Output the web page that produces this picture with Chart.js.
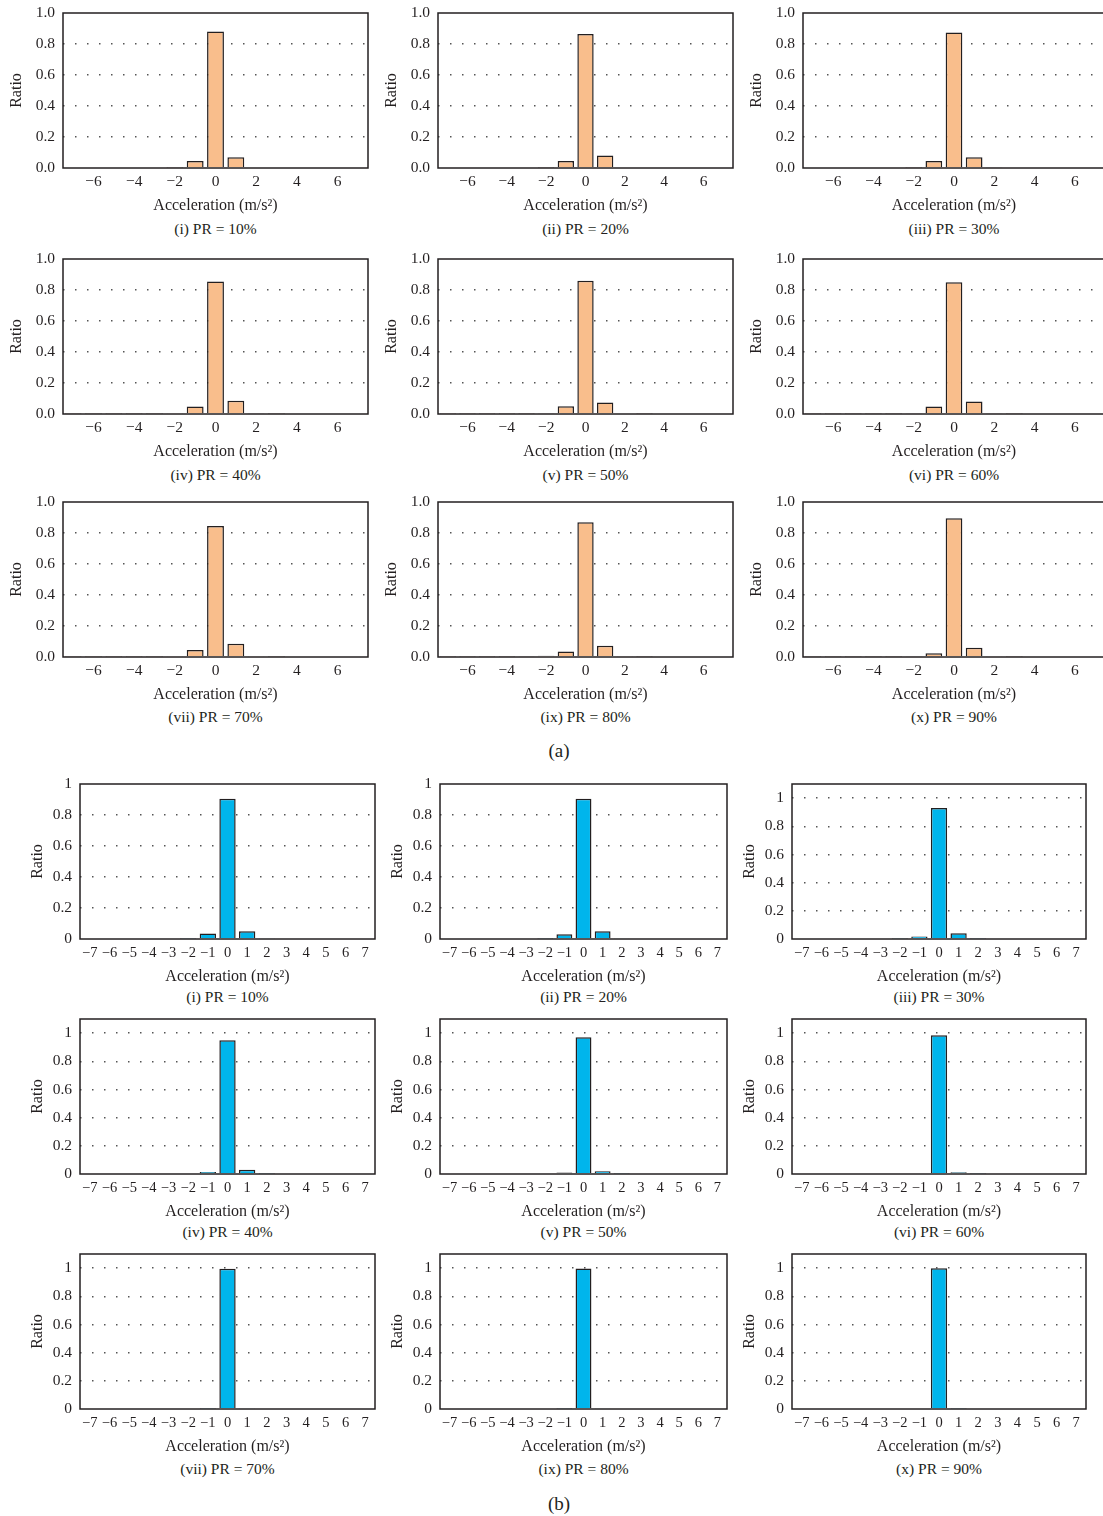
<!DOCTYPE html>
<html>
<head>
<meta charset="utf-8">
<script src="https://cdn.jsdelivr.net/npm/chart.js@4/dist/chart.umd.min.js"></script>
<style>
  html, body { margin: 0; padding: 0; background: #fff; overflow: hidden; }
  body { position: relative; width: 1103px; height: 1516px; font-family: "Liberation Serif", "DejaVu Serif", serif; color: #231f20; }
  canvas { position: absolute; }
  .cap { position: absolute; width: 240px; text-align: center; font-size: 15.5px; line-height: 16px; }
  .part { position: absolute; width: 60px; text-align: center; font-size: 19px; line-height: 20px; }
</style>
</head>
<body>
<script>
// acceleration bins, m/s^2
const accel = [-7, -6, -5, -4, -3, -2, -1, 0, 1, 2, 3, 4, 5, 6, 7];

// (a) ratios per penetration rate
const a10 = [0, 0, 0, 0, 0, 0.001, 0.045, 0.88, 0.07, 0.005, 0, 0, 0, 0, 0];
const a20 = [0, 0, 0, 0, 0, 0.001, 0.045, 0.865, 0.08, 0.005, 0, 0, 0, 0, 0];
const a30 = [0, 0, 0, 0, 0, 0.001, 0.045, 0.875, 0.07, 0.006, 0, 0, 0, 0, 0];
const a40 = [0.001, 0.001, 0.001, 0.001, 0.001, 0.003, 0.048, 0.855, 0.085, 0.006, 0.001, 0, 0, 0, 0];
const a50 = [0.001, 0.001, 0.001, 0.001, 0.002, 0.004, 0.05, 0.86, 0.075, 0.005, 0.001, 0, 0, 0, 0];
const a60 = [0.001, 0.001, 0.001, 0.001, 0.002, 0.006, 0.048, 0.85, 0.08, 0.006, 0.001, 0, 0, 0, 0];
const a70 = [0.001, 0.001, 0.001, 0.002, 0.002, 0.007, 0.045, 0.845, 0.085, 0.003, 0.001, 0, 0, 0, 0];
const a80 = [0.001, 0.001, 0.001, 0.002, 0.004, 0.008, 0.035, 0.87, 0.072, 0.003, 0.001, 0, 0, 0, 0];
const a90 = [0.001, 0.001, 0.001, 0.001, 0.002, 0.004, 0.025, 0.895, 0.06, 0.003, 0.001, 0, 0, 0, 0];

// (b) ratios per penetration rate
const b10 = [0, 0, 0, 0, 0, 0.001, 0.035, 0.905, 0.05, 0.003, 0, 0, 0, 0, 0];
const b20 = [0, 0, 0, 0, 0, 0.001, 0.03, 0.905, 0.05, 0.003, 0, 0, 0, 0, 0];
const b30 = [0, 0, 0, 0, 0, 0.001, 0.018, 0.93, 0.04, 0.002, 0, 0, 0, 0, 0];
const b40 = [0, 0, 0, 0, 0, 0, 0.015, 0.95, 0.03, 0.002, 0, 0, 0, 0, 0];
const b50 = [0, 0, 0, 0, 0, 0, 0.01, 0.97, 0.02, 0.001, 0, 0, 0, 0, 0];
const b60 = [0, 0, 0, 0, 0, 0, 0.006, 0.985, 0.012, 0.002, 0, 0, 0, 0, 0];
const b70 = [0, 0, 0, 0, 0, 0, 0.001, 0.995, 0.003, 0, 0, 0, 0, 0, 0];
const b80 = [0, 0, 0, 0, 0, 0, 0.001, 0.997, 0.003, 0, 0, 0, 0, 0, 0];
const b90 = [0, 0, 0, 0, 0, 0, 0, 0.998, 0.001, 0, 0, 0, 0, 0, 0];

const captions = ["(i) PR = 10%", "(ii) PR = 20%", "(iii) PR = 30%",
                  "(iv) PR = 40%", "(v) PR = 50%", "(vi) PR = 60%",
                  "(vii) PR = 70%", "(ix) PR = 80%", "(x) PR = 90%"];
const seriesA = [a10, a20, a30, a40, a50, a60, a70, a80, a90];
const seriesB = [b10, b20, b30, b40, b50, b60, b70, b80, b90];
const yMaxB = [1, 1, 1.1, 1.1, 1.1, 1.1, 1.1, 1.1, 1.1];
const xTicksA = [-6, -4, -2, 0, 2, 4, 6];
const yTicks = [0, 0.2, 0.4, 0.6, 0.8, 1];

// layout of the plot boxes
const aLeft = [63, 438, 803], aWidth = [305, 295, 302], aTop = [13, 259, 502], aCap = [229, 475, 717];
const bLeft = [80, 440, 792], bWidth = [295, 287, 294], bTop = [784, 1019, 1254], bCap = [997, 1232, 1469];
const plotH = 155;
const FONT = "'Liberation Serif', 'DejaVu Serif', serif";
const INK = "#231f20";

const minus = (v) => v < 0 ? "\u2212" + Math.abs(v) : String(v);

const frame = {
  id: "frame",
  afterDatasetsDraw(chart) {
    const ctx = chart.ctx, a = chart.chartArea;
    ctx.save();
    ctx.strokeStyle = INK;
    ctx.lineWidth = 1.5;
    ctx.strokeRect(a.left, a.top, a.right - a.left, a.bottom - a.top);
    ctx.restore();
  }
};

function addText(cls, text, cx, cy, w) {
  const d = document.createElement("div");
  d.className = cls;
  d.textContent = text;
  d.style.left = (cx - w / 2) + "px";
  d.style.top = (cy - 8) + "px";
  document.body.appendChild(d);
}

function panel(left, top, width, values, color, yMax, partA, caption, capY) {
  const W = partA ? 56 : 52, H = 47, padTop = 20, padRight = 8;
  const cv = document.createElement("canvas");
  cv.width = W + width + padRight;
  cv.height = padTop + plotH + H;
  cv.style.left = (left - W) + "px";
  cv.style.top = (top - padTop) + "px";
  document.body.appendChild(cv);

  new Chart(cv, {
    type: "bar",
    data: {
      labels: accel,
      datasets: [{
        data: values,
        backgroundColor: color,
        borderColor: INK,
        borderWidth: 1.5,
        barPercentage: 0.83,
        categoryPercentage: 1
      }]
    },
    options: {
      responsive: false,
      animation: false,
      events: [],
      layout: { padding: { top: padTop, right: padRight, left: 0, bottom: 0 } },
      plugins: { legend: { display: false }, tooltip: { enabled: false } },
      scales: {
        x: {
          grid: { display: false, drawTicks: false },
          border: { display: false },
          ticks: {
            autoSkip: false, maxRotation: 0, padding: 5, color: INK,
            font: { family: FONT, size: partA ? 15.5 : 14.5 },
            callback: (v, i) => {
              const a = accel[i];
              if (partA && !xTicksA.includes(a)) return "";
              return minus(a);
            }
          },
          title: {
            display: true, text: "Acceleration (m/s\u00B2)", color: INK,
            padding: 0, font: { family: FONT, size: 16 }
          },
          afterFit: (s) => { s.height = H; }
        },
        y: {
          min: 0, max: yMax,
          grid: {
            drawTicks: false, lineWidth: 1.5,
            color: (c) => (c.tick && c.tick.value > 0.01 && c.tick.value < yMax - 0.01) ? "#555" : "rgba(0,0,0,0)"
          },
          border: { display: false, dash: [1.5, 10.5] },
          ticks: {
            stepSize: 0.2, includeBounds: false, padding: 8, color: INK,
            font: { family: FONT, size: 15.5 },
            callback: (v) => partA ? v.toFixed(1) : String(+v.toFixed(1))
          },
          afterBuildTicks: (s) => { s.ticks = yTicks.filter(t => t <= yMax + 1e-9).map(t => ({ value: t })); },
          title: {
            display: true, text: "Ratio", color: INK,
            padding: 0, font: { family: FONT, size: 16 }
          },
          afterFit: (s) => { s.width = W; }
        }
      }
    },
    plugins: [frame]
  });

  addText("cap", caption, left + width / 2, capY, 240);
}

for (let r = 0; r < 3; r++) {
  for (let c = 0; c < 3; c++) {
    const k = r * 3 + c;
    panel(aLeft[c], aTop[r], aWidth[c], seriesA[k], "#f9be8c", 1, true, captions[k], aCap[r]);
    panel(bLeft[c], bTop[r], bWidth[c], seriesB[k], "#00b5ec", yMaxB[k], false, captions[k], bCap[r]);
  }
}

addText("part", "(a)", 559, 749, 60);
addText("part", "(b)", 559, 1502, 60);
</script>
</body>
</html>
